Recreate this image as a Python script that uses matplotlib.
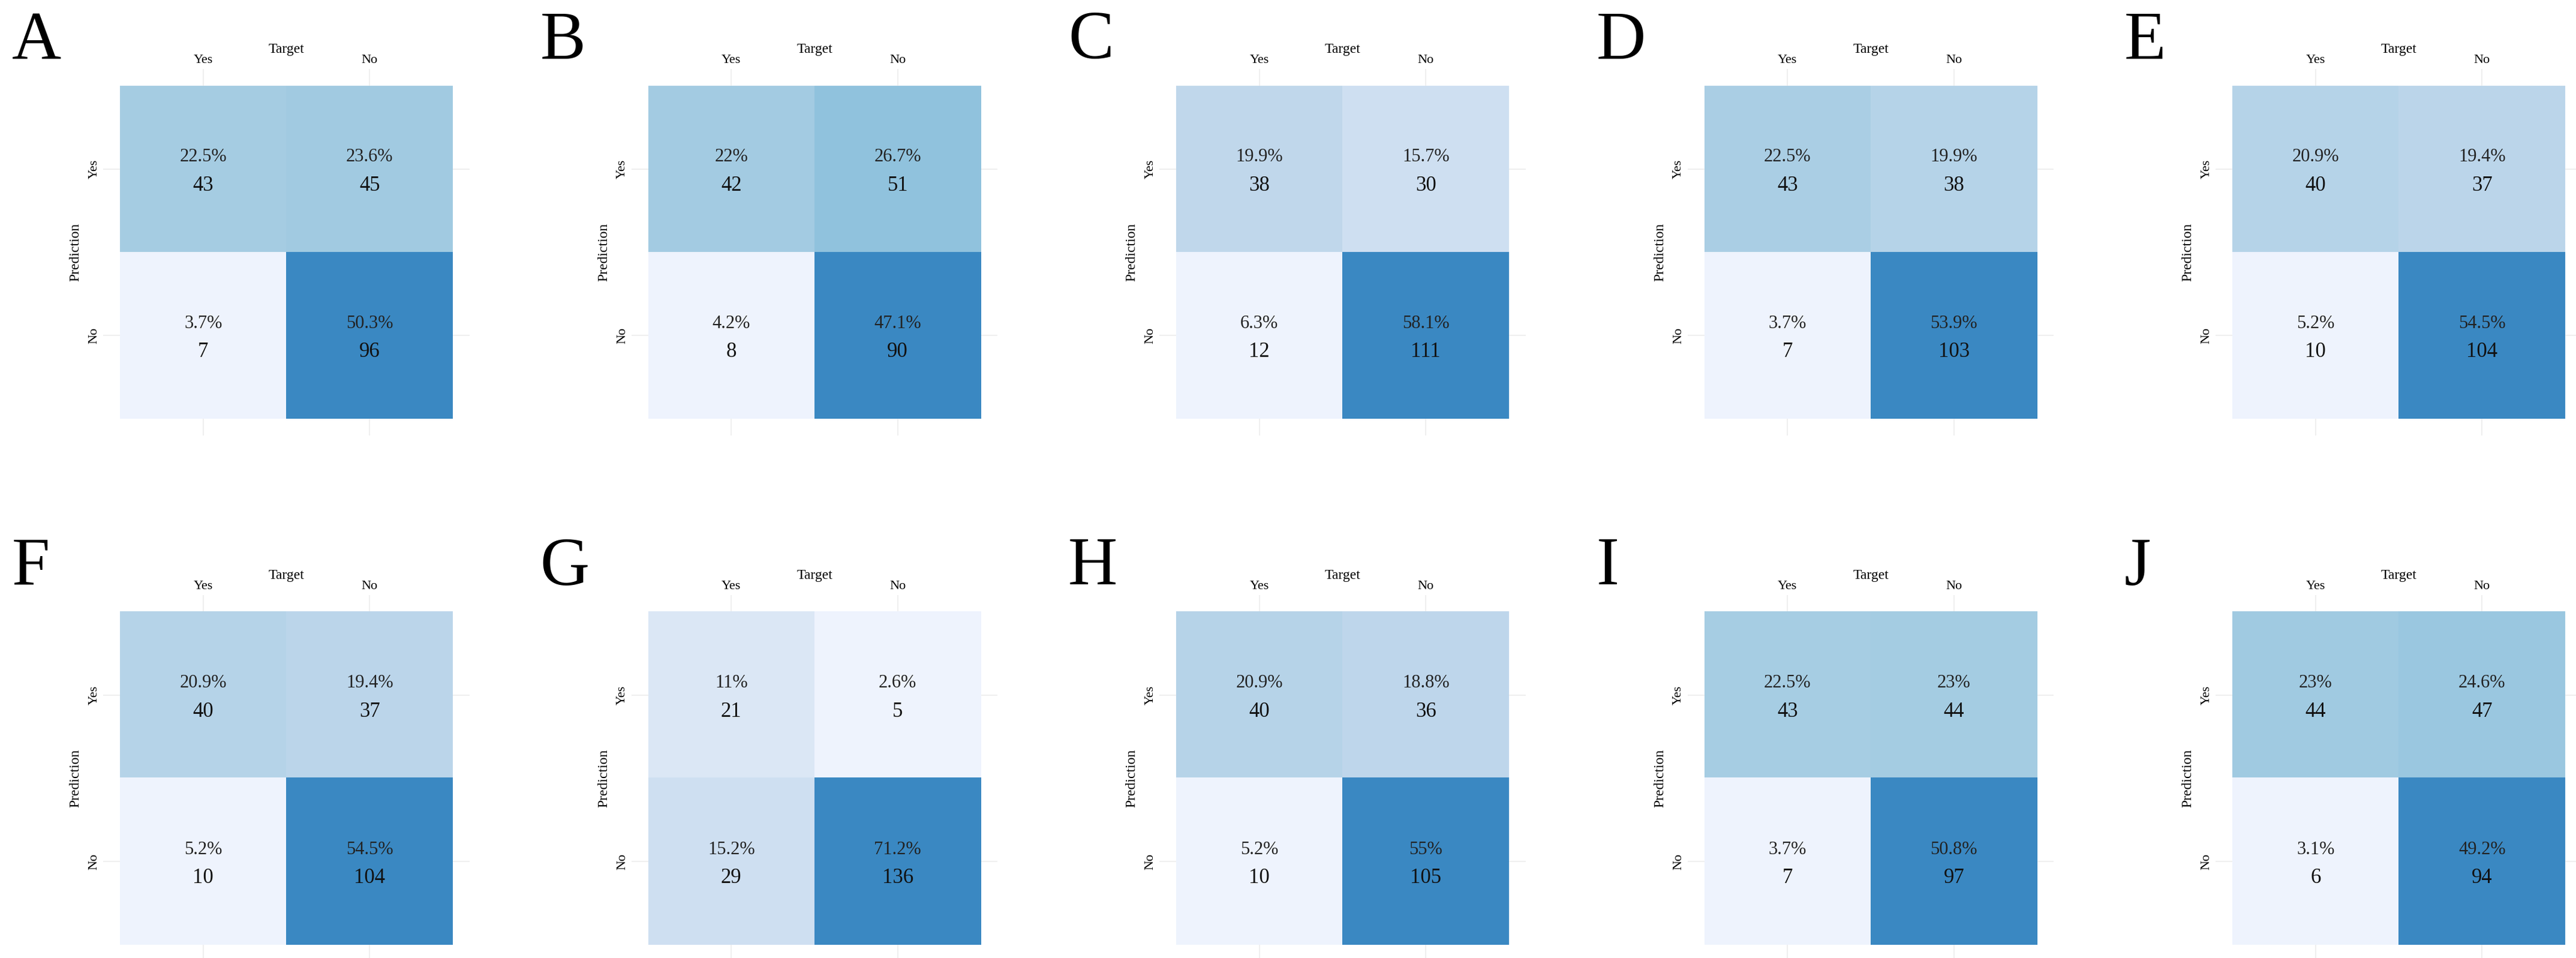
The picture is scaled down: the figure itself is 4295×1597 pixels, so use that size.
import numpy as np
import matplotlib.pyplot as plt
from matplotlib.colors import LinearSegmentedColormap

plt.rcParams['font.family'] = ['Liberation Serif', 'DejaVu Serif']

LABELS = ['A', 'B', 'C', 'D', 'E', 'F', 'G', 'H', 'I', 'J']
CLASSES = ['Yes', 'No']
# counts per panel: [[pred Yes/target Yes, pred Yes/target No], [pred No/target Yes, pred No/target No]]
COUNTS = [
    [[43, 45], [7, 96]],
    [[42, 51], [8, 90]],
    [[38, 30], [12, 111]],
    [[43, 38], [7, 103]],
    [[40, 37], [10, 104]],
    [[40, 37], [10, 104]],
    [[21, 5], [29, 136]],
    [[40, 36], [10, 105]],
    [[43, 44], [7, 97]],
    [[44, 47], [6, 94]],
]
PERCENTS = [
    [['22.5%', '23.6%'], ['3.7%', '50.3%']],
    [['22%', '26.7%'], ['4.2%', '47.1%']],
    [['19.9%', '15.7%'], ['6.3%', '58.1%']],
    [['22.5%', '19.9%'], ['3.7%', '53.9%']],
    [['20.9%', '19.4%'], ['5.2%', '54.5%']],
    [['20.9%', '19.4%'], ['5.2%', '54.5%']],
    [['11%', '2.6%'], ['15.2%', '71.2%']],
    [['20.9%', '18.8%'], ['5.2%', '55%']],
    [['22.5%', '23%'], ['3.7%', '50.8%']],
    [['23%', '24.6%'], ['3.1%', '49.2%']],
]

cmap = LinearSegmentedColormap.from_list('cm', [
    (0.0, '#eef3fd'), (0.12, '#dce8f6'), (0.18, '#cfe0f2'), (0.26, '#c1d8ec'),
    (0.40, '#a6cde3'), (0.52, '#92c3de'), (1.0, '#3a88c2')])

W, H = 4295, 1597
fig = plt.figure(figsize=(W / 100, H / 100), dpi=100)

pad = 0.1
for i, lab in enumerate(LABELS):
    row, col = divmod(i, 5)
    hx0 = 200 + col * 880.5
    hy0 = 143 + row * 877
    hw = 555
    cell = hw / 2
    ax = fig.add_axes([(hx0 - pad * cell) / W,
                       1 - (hy0 + hw + pad * cell) / H,
                       (hw + 2 * pad * cell) / W,
                       (hw + 2 * pad * cell) / H])
    m = np.array(COUNTS[i], dtype=float)
    ax.imshow(m, cmap=cmap, vmin=m.min(), vmax=m.max(),
              extent=(-0.5, 1.5, 1.5, -0.5), zorder=2, aspect='auto')
    ax.set_xlim(-0.5 - pad, 1.5 + pad)
    ax.set_ylim(1.5 + pad, -0.5 - pad)
    for p in range(2):
        ax.axvline(p, color='#ececec', lw=1.2, zorder=1)
        ax.axhline(p, color='#ececec', lw=1.2, zorder=1)
    for r in range(2):
        for c in range(2):
            ax.text(c, r - 0.02, PERCENTS[i][r][c], ha='center', va='bottom',
                    fontsize=22, color='#222222', zorder=3)
            ax.text(c, r + 0.04, str(COUNTS[i][r][c]), ha='center', va='top',
                    fontsize=25, color='#111111', zorder=3)
    ax.xaxis.tick_top()
    ax.xaxis.set_label_position('top')
    ax.set_xticks([0, 1])
    ax.set_xticklabels(CLASSES, fontsize=16)
    ax.set_yticks([0, 1])
    ax.set_yticklabels(CLASSES, fontsize=16, rotation=90, va='center')
    ax.tick_params(length=0, pad=4)
    ax.set_xlabel('Target', fontsize=17, labelpad=2)
    ax.set_ylabel('Prediction', fontsize=17, labelpad=8)
    for s in ax.spines.values():
        s.set_visible(False)
    fig.text((hx0 - 180) / W, 1 - (hy0 - 125) / H, lab, fontsize=82,
             ha='left', va='top')

fig.savefig('out.png', dpi=100, facecolor='white')
